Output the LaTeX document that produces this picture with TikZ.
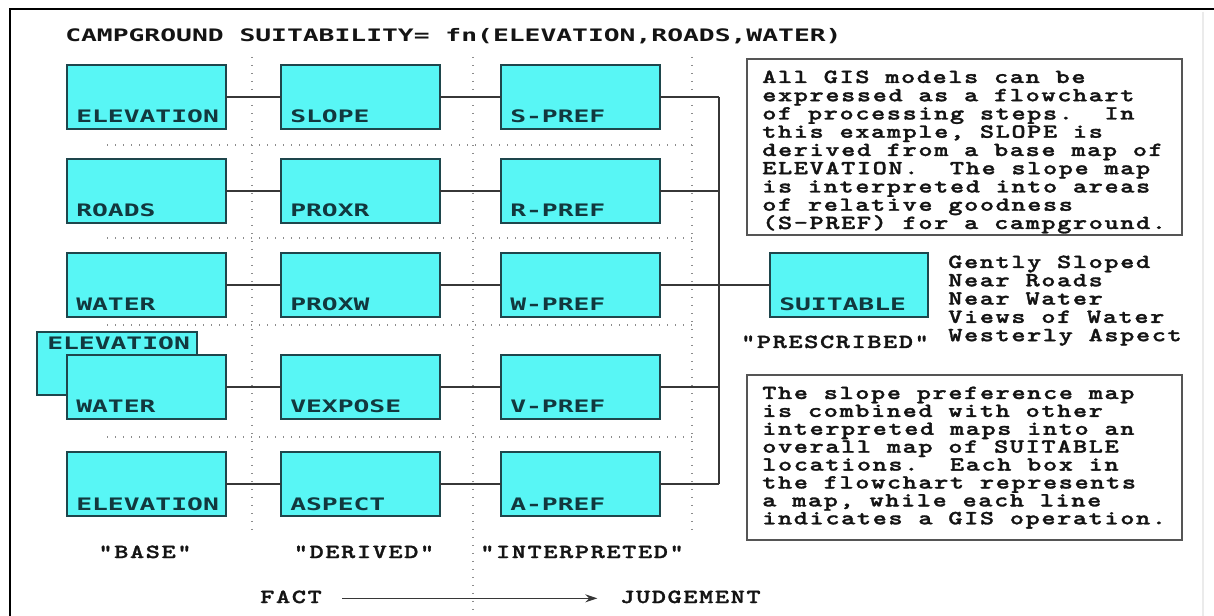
\documentclass[tikz,border=0pt]{standalone}
\usepackage{fontspec}
\usetikzlibrary{arrows.meta}
\newfontfamily\lblfont[FakeStretch=1.53]{DejaVu Sans Mono}
\IfFontExistsTF{lmmonolt10-bold.otf}
  {\newfontfamily\txtfont{lmmonolt10-bold.otf}[FakeStretch=1.35,LetterSpace=8,FakeBold=1.5]\newcommand\txtsize{\fontsize{15}{18}\selectfont}}
  {\newfontfamily\txtfont{Liberation Mono Bold}[FakeStretch=1.25]\newcommand\txtsize{\fontsize{15.8}{18}\selectfont}}
\definecolor{boxfill}{RGB}{88,246,245}
\definecolor{boxline}{RGB}{30,70,76}
\definecolor{lbltext}{RGB}{18,56,62}
\definecolor{txtcol}{RGB}{20,20,20}
\definecolor{dotcol}{RGB}{140,140,140}
\definecolor{notecol}{RGB}{85,85,85}
\frenchspacing
\tikzset{
  mapbox/.style={draw=boxline, line width=1.6pt, fill=boxfill, minimum width=119.25pt, minimum height=48pt, inner sep=0pt, outer sep=0pt},
  maplbl/.style={font=\lblfont\bfseries\fontsize{12.9}{14}\selectfont, text=lbltext, inner sep=0pt, anchor=base west},
  titletxt/.style={font=\lblfont\bfseries\fontsize{12.9}{14}\selectfont, text=txtcol, inner sep=0pt, anchor=base west},
  notetxt/.style={font=\txtfont\txtsize, text=txtcol, inner sep=0pt, anchor=base west, text height=9.5pt, text depth=2.5pt},
  quotetxt/.style={font=\txtfont\txtsize, text=txtcol, inner sep=0pt, anchor=base, text height=9.5pt, text depth=2.5pt},
  note/.style={draw=notecol, line width=2pt, fill=white, minimum width=326.25pt, inner sep=0pt, outer sep=0pt},
  conn/.style={draw=txtcol!85, line width=1.4pt},
  dotline/.style={draw=dotcol, line width=1.1pt, dash pattern=on 1.1pt off 4.9pt},
}
\begin{document}
\begin{tikzpicture}[x=0.75pt,y=-0.75pt]
\useasboundingbox (0,0) rectangle (1214,616);
\fill[white] (0,0) rectangle (1214,616);
% frame
\draw[black!8, line width=1pt] (1203,12) -- (1203,616);
\draw[black, line width=2pt] (10,616) -- (10,9) -- (1214,9);

% title
\node[titletxt] (title) at (65,42) {CAMPGROUND SUITABILITY= fn(ELEVATION,ROADS,WATER)};

% dotted grid
\draw[dotline] (252,57) -- (252,532);
\draw[dotline] (473,57) -- (473,610);
\draw[dotline] (692,57) -- (692,532);
\foreach \yy in {145,238,325,437} \draw[dotline] (107,\yy) -- (698,\yy);

% back elevation box (row 4)
\node[mapbox, minimum width=120pt, minimum height=47.25pt] (back) at (117,363.5) {};
\node[maplbl] (back-l) at (47,350) {ELEVATION};

% map boxes
\foreach \r/\yy/\a/\b/\c in {1/97/ELEVATION/SLOPE/S-PREF, 2/191/ROADS/PROXR/R-PREF, 3/285/WATER/PROXW/W-PREF, 4/387/WATER/VEXPOSE/V-PREF, 5/484/ELEVATION/ASPECT/A-PREF}{
  \node[mapbox] (r\r c1) at (146.5,\yy) {};
  \node[mapbox] (r\r c2) at (360.5,\yy) {};
  \node[mapbox] (r\r c3) at (580.5,\yy) {};
  \node[maplbl] (r\r l1) at ([shift={(9,-6)}]r\r c1.south west) {\a};
  \node[maplbl] (r\r l2) at ([shift={(9,-6)}]r\r c2.south west) {\b};
  \node[maplbl] (r\r l3) at ([shift={(9,-6)}]r\r c3.south west) {\c};
}
\node[mapbox, minimum width=118.5pt] (suit) at (849,285) {};
\node[maplbl] (suit-l) at ([shift={(9,-6)}]suit.south west) {SUITABLE};

% connectors
\coordinate (bus) at (719,0);
\foreach \r in {1,...,5}{
  \draw[conn] (r\r c1.east) -- (r\r c2.west);
  \draw[conn] (r\r c2.east) -- (r\r c3.west);
  \draw[conn] (r\r c3.east) -- (r\r c3.east -| bus);
}
\draw[conn] (r1c3.east -| bus) -- (r5c3.east -| bus);
\draw[conn] (r3c3.east -| bus) -- (suit.west);

% notes
\node[note, minimum height=132pt] (note1) at (964.5,147) {};
\foreach \t [count=\i] in {All GIS models can be, expressed as a flowchart, {of processing steps.~ In}, {this example, SLOPE is}, derived from a base map of, {ELEVATION.~ The slope map}, is interpreted into areas, of relative goodness, {(S-PREF) for a campground.}}
  \node[notetxt] (nA\i) at (762,{83+(\i-1)*18.25}) {\t};

\node[note, minimum height=123.75pt] (note2) at (964.5,457.5) {};
\foreach \t [count=\i] in {The slope preference map, is combined with other, interpreted maps into an, overall map of SUITABLE, {locations.~ Each box in}, the flowchart represents, {a map, while each line}, indicates a GIS operation.}
  \node[notetxt] (nB\i) at (762,{399+(\i-1)*17.9}) {\t};

% criteria list
\foreach \t [count=\i] in {Gently Sloped, Near Roads, Near Water, Views of Water, Westerly Aspect}
  \node[notetxt] (crit\i) at (948,{268+(\i-1)*18.3}) {\t};

% quoted labels
\node[quotetxt] (presc) at (835,348) {"PRESCRIBED"};
\node[quotetxt] (base) at (145,558) {"BASE"};
\node[quotetxt] (deriv) at (364,558) {"DERIVED"};
\node[quotetxt] (interp) at (582,558) {"INTERPRETED"};

% fact -> judgement
\node[notetxt] (fact) at (260,603) {FACT};
\node[notetxt] (judg) at (620,603) {JUDGEMENT};
\draw[conn, line width=1.1pt, -{Stealth[length=9pt,width=6pt]}] ([xshift=15pt]fact.east) -- ([xshift=-17pt]judg.west);
\end{tikzpicture}
\end{document}
